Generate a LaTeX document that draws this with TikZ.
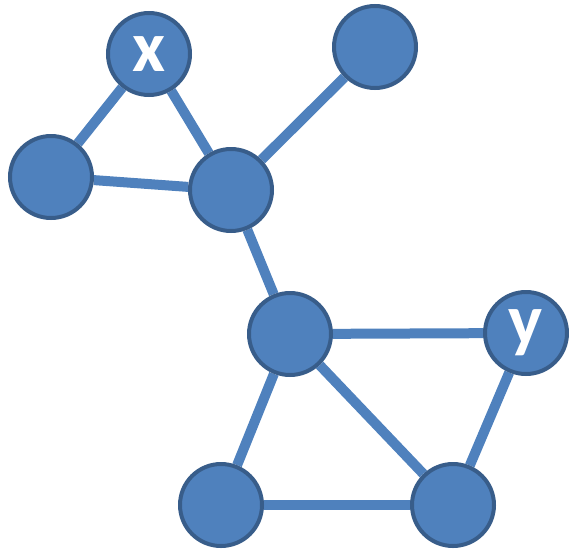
\documentclass[tikz,border=0pt]{standalone}
\usepackage{fontspec}
\setmainfont{Carlito}
\usetikzlibrary{backgrounds}
\begin{document}
\begin{tikzpicture}[x=1pt,y=1pt,
  vert/.style={circle,draw=vborder,fill=vfill,line width=4pt,minimum size=82pt,inner sep=0pt,
    text=white,font=\fontsize{72}{72}\selectfont\bfseries},
  link/.style={draw=vfill,line width=10pt}]
\definecolor{vfill}{HTML}{4F81BD}
\definecolor{vborder}{HTML}{385D8A}
\useasboundingbox (0,0) rectangle (569,-549);
% vertices
\node[vert] (x)  at (149,-54) {x};
\node[vert] (tr) at (375,-47) {};
\node[vert] (l)  at (51,-177) {};
\node[vert] (c)  at (231,-190) {};
\node[vert] (m)  at (290,-334) {};
\node[vert] (y)  at (526,-333) {y};
\node[vert] (bl) at (221,-505) {};
\node[vert] (br) at (453,-505) {};
% edges, drawn behind the vertices
\begin{pgfonlayer}{background}
\draw[link] (x) -- (l);
\draw[link] (x) -- (c);
\draw[link] (l) -- (c);
\draw[link] (c) -- (tr);
\draw[link] (c) -- (m);
\draw[link] (m) -- (y);
\draw[link] (m) -- (bl);
\draw[link] (m) -- (br);
\draw[link] (bl) -- (br);
\draw[link] (y) -- (br);
\end{pgfonlayer}
\end{tikzpicture}
\end{document}
